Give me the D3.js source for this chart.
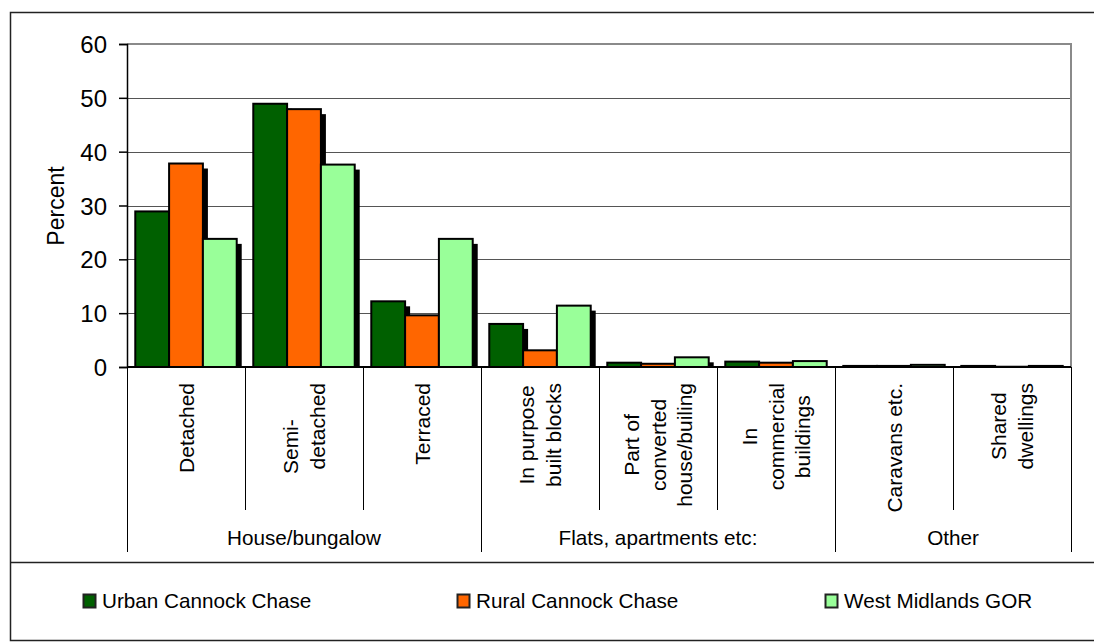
<!DOCTYPE html>
<html>
<head>
<meta charset="utf-8">
<script src="https://cdn.jsdelivr.net/npm/d3@7"></script>
<style>
  html, body { margin: 0; padding: 0; background: #fff; }
  svg { display: block; font-family: "Liberation Sans", Arial, sans-serif; }
</style>
</head>
<body>
<svg id="chart" width="1094" height="643"></svg>
<script>
// ---- data ----
const categories = ["Detached", "Semi-detached", "Terraced", "In purpose built blocks",
  "Part of converted house/builing", "In commercial buildings", "Caravans etc.", "Shared dwellings"];
const categoryLines = [
  ["Detached"],
  ["Semi-\u00a0\u00a0\u00a0\u00a0\u00a0\u00a0\u00a0", "detached"],
  ["Terraced"],
  ["In purpose", "built blocks"],
  ["Part of", "converted", "house/builing"],
  ["In", "commercial", "buildings"],
  ["Caravans etc."],
  ["Shared", "dwellings"]
];
const groups = ["House/bungalow", "Flats, apartments etc:", "Other"];
const groupSizes = [3, 3, 2];
const seriesNames = ["Urban Cannock Chase", "Rural Cannock Chase", "West Midlands GOR"];
const seriesColors = ["#006000", "#ff6600", "#99ff99"];
const urban = [28.9, 48.9, 12.2, 8.0, 0.8, 1.0, 0.2, 0.2];
const rural = [37.8, 47.9, 9.6, 3.1, 0.6, 0.8, 0.2, 0.05];
const westMidlands = [23.8, 37.6, 23.8, 11.4, 1.8, 1.1, 0.4, 0.2];
const seriesValues = [urban, rural, westMidlands];
const yTicks = [0, 10, 20, 30, 40, 50, 60];

// ---- layout ----
const svg = d3.select("#chart");
const W = 1094, H = 643;
const plot = { left: 127, right: 1071, top: 44, bottom: 367 };

svg.append("rect").attr("x", 0).attr("y", 0).attr("width", W).attr("height", H).attr("fill", "#fff");

// outer frame
svg.append("rect").attr("x", 10.5).attr("y", 12.5).attr("width", W + 10).attr("height", 628)
  .attr("fill", "none").attr("stroke", "#222").attr("stroke-width", 1.5);
svg.append("line").attr("x1", 10).attr("x2", W).attr("y1", 562.5).attr("y2", 562.5)
  .attr("stroke", "#222").attr("stroke-width", 1.5);

const y = d3.scaleLinear().domain([0, 60]).range([plot.bottom, plot.top]);
const x = d3.scaleBand().domain(categories).range([plot.left, plot.right]).padding(0);
const xs = d3.scaleBand().domain(seriesNames).range([0, x.bandwidth()]).paddingInner(0).paddingOuter(0.245);

// gridlines
svg.append("g").selectAll("line").data(yTicks.filter(t => t > 0 && t < 60)).join("line")
  .attr("x1", plot.left).attr("x2", plot.right)
  .attr("y1", d => Math.round(y(d)) + 0.5).attr("y2", d => Math.round(y(d)) + 0.5)
  .attr("stroke", "#555").attr("stroke-width", 1);
// top & right plot border (gray)
svg.append("path")
  .attr("d", `M${plot.left},${y(60)}H${plot.right}V${plot.bottom}`)
  .attr("fill", "none").attr("stroke", "#8a8a8a").attr("stroke-width", 2);

// bars with shadows
seriesValues.forEach((vals, si) => {
  const gs = svg.append("g");
  categories.forEach((c, ci) => {
    const bx = x(c) + xs(seriesNames[si]);
    const bw = xs.bandwidth();
    const by = y(vals[ci]);
    // shadow
    const sh = Math.max(0, plot.bottom - (by + 5));
    if (sh > 0) {
      gs.append("rect").attr("x", bx + 5).attr("y", by + 5).attr("width", bw).attr("height", sh)
        .attr("fill", "#000");
    }
    gs.append("rect").attr("x", bx).attr("y", by).attr("width", bw)
      .attr("height", Math.max(0, plot.bottom - by))
      .attr("fill", seriesColors[si]).attr("stroke", "#000").attr("stroke-width", 2);
  });
});

// y axis
const yAxis = d3.axisLeft(y).tickValues(yTicks).tickSize(8).tickPadding(12);
const ya = svg.append("g").attr("transform", `translate(${plot.left},0)`).call(yAxis);
ya.select(".domain").attr("stroke", "#000").attr("stroke-width", 1.5);
ya.selectAll(".tick line").attr("stroke", "#000").attr("stroke-width", 1.5);
ya.selectAll(".tick text").attr("font-size", 24).attr("fill", "#000")
  .attr("font-family", "Liberation Sans, Arial, sans-serif").attr("dy", "0.36em");

// y title
svg.append("text").attr("transform", "translate(64,206) rotate(-90)")
  .attr("text-anchor", "middle").attr("font-size", 23).attr("fill", "#000").text("Percent");

// x baseline
svg.append("line").attr("x1", plot.left).attr("x2", plot.right)
  .attr("y1", plot.bottom).attr("y2", plot.bottom).attr("stroke", "#000").attr("stroke-width", 2);

// category separators
const groupBounds = [0];
groupSizes.forEach((s, i) => groupBounds.push(groupBounds[i] + s));
const bounds = d3.range(categories.length + 1);
svg.append("g").selectAll("line").data(bounds).join("line")
  .attr("x1", i => Math.round(i < categories.length ? x(categories[i]) : plot.right) + 0.5)
  .attr("x2", i => Math.round(i < categories.length ? x(categories[i]) : plot.right) + 0.5)
  .attr("y1", plot.bottom)
  .attr("y2", i => groupBounds.includes(i) ? 552 : 510)
  .attr("stroke", "#000").attr("stroke-width", 1);

// category labels (rotated)
const labelTop = 383, pitch = 26.5, catFont = 21;
categoryLines.forEach((lines, ci) => {
  const cx = x(categories[ci]) + x.bandwidth() / 2;
  const g = svg.append("g");
  // measure
  const tmp = g.append("text").attr("font-size", catFont);
  let maxW = 0;
  lines.forEach(l => { tmp.text(l.trim()); maxW = Math.max(maxW, tmp.node().getComputedTextLength()); });
  tmp.remove();
  const n = lines.length;
  lines.forEach((l, i) => {
    const off = (i - (n - 1) / 2) * pitch + 7.5;
    g.append("text")
      .attr("transform", `translate(${cx + off},${labelTop + maxW / 2}) rotate(-90)`)
      .attr("text-anchor", "middle").attr("font-size", catFont).attr("fill", "#000")
      .attr("xml:space", "preserve")
      .text(l);
  });
});

// group labels
groups.forEach((gname, gi) => {
  const x0 = x(categories[groupBounds[gi]]);
  const x1 = groupBounds[gi + 1] < categories.length ? x(categories[groupBounds[gi + 1]]) : plot.right;
  svg.append("text").attr("x", (x0 + x1) / 2).attr("y", 545)
    .attr("text-anchor", "middle").attr("font-size", 20.7).attr("fill", "#000").text(gname);
});

// legend
const legendX = [83, 457, 825];
seriesNames.forEach((s, i) => {
  svg.append("rect").attr("x", legendX[i] + 0.5).attr("y", 594.5).attr("width", 12).attr("height", 13)
    .attr("fill", seriesColors[i]).attr("stroke", "#222").attr("stroke-width", 2);
  svg.append("text").attr("x", legendX[i] + 19).attr("y", 608)
    .attr("font-size", 20.7).attr("fill", "#000").text(s);
});
</script>
</body>
</html>
